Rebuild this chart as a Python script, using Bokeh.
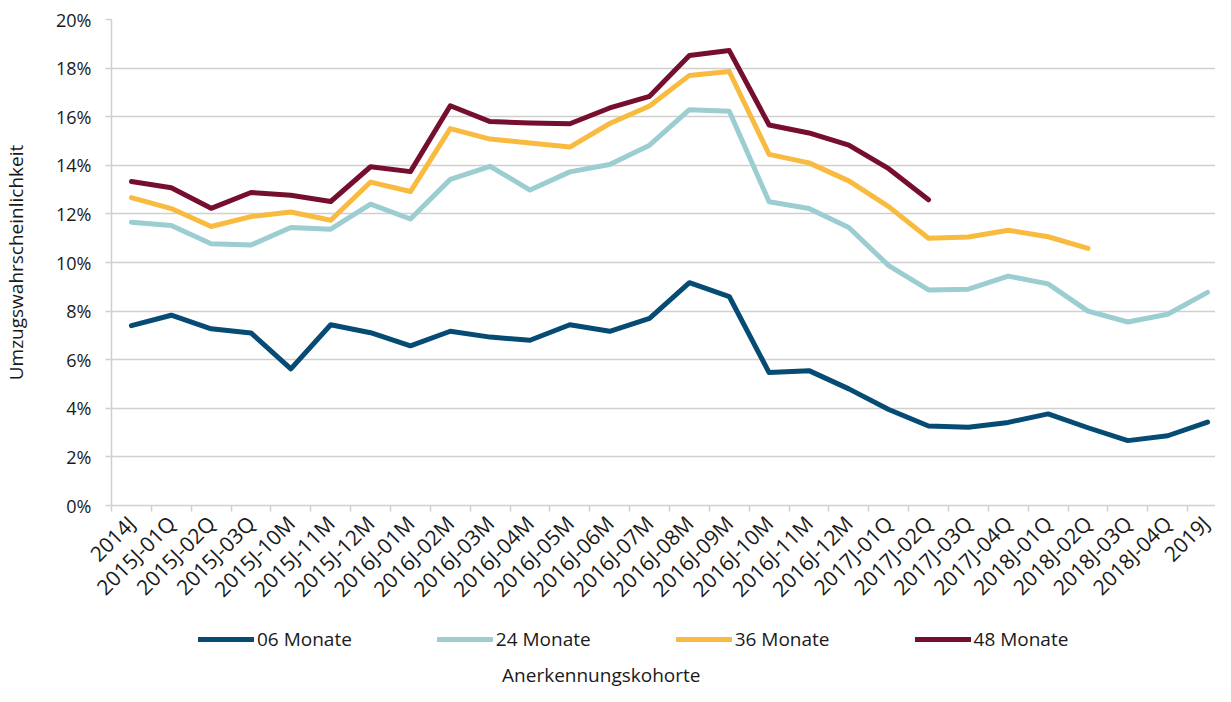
from bokeh.plotting import figure
from bokeh.models import FixedTicker, Legend, LegendItem, Label, Range1d
from bokeh.layouts import column
from bokeh.embed import file_html
from bokeh.resources import INLINE
import math

categories = ["2014J", "2015J-01Q", "2015J-02Q", "2015J-03Q", "2015J-10M", "2015J-11M",
              "2015J-12M", "2016J-01M", "2016J-02M", "2016J-03M", "2016J-04M", "2016J-05M",
              "2016J-06M", "2016J-07M", "2016J-08M", "2016J-09M", "2016J-10M", "2016J-11M",
              "2016J-12M", "2017J-01Q", "2017J-02Q", "2017J-03Q", "2017J-04Q", "2018J-01Q",
              "2018J-02Q", "2018J-03Q", "2018J-04Q", "2019J"]

m06 = [7.40, 7.83, 7.27, 7.10, 5.62, 7.44, 7.11, 6.57, 7.17, 6.93, 6.80, 7.44, 7.17, 7.70,
       9.17, 8.60, 5.47, 5.55, 4.80, 3.95, 3.27, 3.22, 3.42, 3.77, 3.20, 2.67, 2.87, 3.43]
m24 = [11.66, 11.52, 10.77, 10.72, 11.44, 11.37, 12.40, 11.79, 13.42, 13.96, 12.98, 13.73,
       14.03, 14.83, 16.29, 16.22, 12.50, 12.22, 11.44, 9.87, 8.87, 8.90, 9.44, 9.12, 8.00,
       7.55, 7.87, 8.77]
m36 = [12.67, 12.22, 11.48, 11.89, 12.08, 11.74, 13.31, 12.92, 15.51, 15.08, 14.92, 14.75,
       15.72, 16.44, 17.70, 17.86, 14.45, 14.10, 13.36, 12.30, 11.00, 11.05, 11.33, 11.06, 10.58]
m48 = [13.33, 13.08, 12.23, 12.88, 12.77, 12.51, 13.94, 13.74, 16.45, 15.80, 15.74, 15.71,
       16.36, 16.84, 18.52, 18.72, 15.66, 15.33, 14.83, 13.86, 12.58]

series_names = ["06 Monate", "24 Monate", "36 Monate", "48 Monate"]
series_values = [m06, m24, m36, m48]
colors = ["#054b74", "#9bcdd1", "#f8bb40", "#760e2e"]

y_ticks = list(range(0, 21, 2))
y_labels = {t: f"{t}%" for t in y_ticks}

x_title = "Anerkennungskohorte"
y_title = "Umzugswahrscheinlichkeit"

FONT = "Open Sans"
TXT = "#1a1a1a"
GRID = "#d0d0d0"
W = 1215
FRAME_W = W - 106

p = figure(width=W, height=615, output_backend="svg", toolbar_location=None,
           x_range=Range1d(-0.5, 27.2), y_range=Range1d(0, 20),
           min_border_left=106, min_border_right=0, min_border_top=19,
           min_border_bottom=108)
p.outline_line_color = None
p.background_fill_color = "white"
p.border_fill_color = "white"

for name, vals, col in zip(series_names, series_values, colors):
    xs = list(range(len(vals)))
    p.line(xs, vals, line_color=col, line_width=5, line_join="round", line_cap="round")

# x axis
xa = p.xaxis[0]
xa.ticker = FixedTicker(ticks=list(range(len(categories))),
                        minor_ticks=[i - 0.5 for i in range(len(categories) + 1)])
xa.major_label_overrides = {i: c for i, c in enumerate(categories)}
xa.major_label_orientation = math.pi / 4
xa.major_tick_out = 0
xa.major_tick_in = 0
xa.minor_tick_out = 6
xa.minor_tick_in = 0
xa.minor_tick_line_color = GRID
xa.minor_tick_line_width = 1.5
xa.axis_line_color = GRID
xa.axis_line_width = 1.5
xa.major_label_standoff = 8
xa.major_label_text_font = FONT
xa.major_label_text_font_size = "21px"
xa.major_label_text_color = TXT

# y axis
ya = p.yaxis[0]
ya.ticker = FixedTicker(ticks=y_ticks)
ya.major_label_overrides = y_labels
ya.major_tick_out = 6
ya.major_tick_in = 0
ya.minor_tick_out = 0
ya.minor_tick_in = 0
ya.major_tick_line_color = GRID
ya.major_tick_line_width = 1.5
ya.axis_line_color = GRID
ya.axis_line_width = 1.5
ya.major_label_standoff = 14
ya.major_label_text_font = FONT
ya.major_label_text_font_size = "18px"
ya.major_label_text_color = TXT
ya.axis_label = y_title
ya.axis_label_text_font = FONT
ya.axis_label_text_font_size = "19px"
ya.axis_label_text_font_style = "normal"
ya.axis_label_text_color = TXT
ya.axis_label_standoff = 24

p.xgrid.grid_line_color = None
p.ygrid.ticker = FixedTicker(ticks=y_ticks)
p.ygrid.grid_line_color = GRID
p.ygrid.grid_line_width = 1.5

# bottom strip: legend and x-axis title (frame aligned with the main plot's frame)
H2 = 79
p2 = figure(width=W, height=H2, output_backend="svg", toolbar_location=None,
            x_range=Range1d(0, FRAME_W), y_range=Range1d(0, H2),
            x_axis_location=None, y_axis_location=None,
            min_border_left=106, min_border_right=0,
            min_border_top=0, min_border_bottom=0)
p2.outline_line_color = None
p2.grid.visible = False
p2.background_fill_color = "white"
p2.border_fill_color = "white"
# legend proxies: the same series, kept on a hidden range so only the legend shows them
p2.extra_y_ranges = {"hidden": Range1d(1000, 1001)}

items = []
for name, vals, col in zip(series_names, series_values, colors):
    r = p2.line(list(range(len(vals))), vals, y_range_name="hidden",
                line_color=col, line_width=5, line_cap="round")
    items.append(LegendItem(label=name, renderers=[r]))

legend = Legend(items=items, orientation="horizontal", location=(87, 42),
                glyph_width=56, glyph_height=26, label_height=26,
                label_standoff=3, spacing=85, padding=0, margin=0,
                border_line_color=None, background_fill_alpha=0,
                label_text_font=FONT, label_text_font_size="19px",
                label_text_color=TXT, label_text_baseline="middle")
p2.add_layout(legend, "center")

title = Label(x=492, y=20, text=x_title, text_align="center", text_baseline="middle",
              text_font=FONT, text_font_size="19px", text_color=TXT)
p2.add_layout(title)

layout = column(p, p2, spacing=0)
open("out.html", "w").write(file_html(layout, INLINE))
